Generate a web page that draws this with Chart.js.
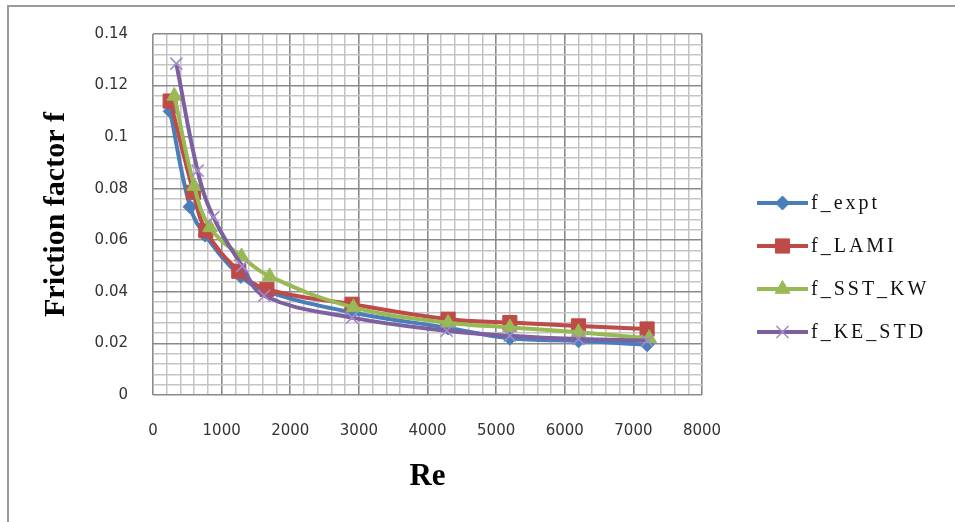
<!DOCTYPE html>
<html>
<head>
<meta charset="utf-8">
<script src="https://cdn.jsdelivr.net/npm/chart.js@4/dist/chart.umd.min.js"></script>
<style>
html,body{margin:0;padding:0;background:#fff;}
#wrap{position:relative;width:955px;height:522px;}
</style>
</head>
<body>
<div id="wrap"><canvas id="c" width="955" height="522"></canvas></div>
<script>
// ---- data ----
const seriesNames = ['f_expt', 'f_LAMI', 'f_SST_KW', 'f_KE_STD'];

const reExpt = [250, 540, 760, 1280, 1680, 2900, 4300, 5200, 6200, 7200];
const fExpt  = [0.110, 0.073, 0.062, 0.046, 0.040, 0.032, 0.026, 0.022, 0.021, 0.0195];

const reLami = [250, 590, 770, 1250, 1660, 2900, 4300, 5200, 6200, 7200];
const fLami  = [0.114, 0.0786, 0.0637, 0.048, 0.041, 0.0352, 0.0294, 0.0281, 0.0268, 0.0256];

const reSst  = [310, 600, 830, 1290, 1700, 2920, 4300, 5200, 6200, 7230];
const fSst   = [0.116, 0.081, 0.065, 0.0537, 0.046, 0.034, 0.028, 0.0262, 0.0243, 0.022];

const reKe   = [340, 650, 880, 1300, 1620, 2900, 4280, 5200, 6200, 7200];
const fKe    = [0.1285, 0.087, 0.069, 0.050, 0.0385, 0.030, 0.0249, 0.023, 0.0217, 0.0211];

const xTickLabels = ['0', '1000', '2000', '3000', '4000', '5000', '6000', '7000', '8000'];
const yTickLabels = ['0', '0.02', '0.04', '0.06', '0.08', '0.1', '0.12', '0.14'];
const xMinorStep = 200;
const yMinorStep = 0.004;

const xTitle = 'Re';
const yTitle = 'Friction factor f';

// ---- build ----
const colors = ['#4A7EBB', '#BE4B48', '#98B954', '#7D60A0'];
const markerColors = ['#4A7EBB', '#BE4B48', '#98B954', '#A48ACB'];
const styles = ['rectRot', 'rect', 'triangle', 'crossRot'];
const radii = [7, 10, 8.5, 8.5];
const pointBW = [1, 1, 1, 1.6];
const xs = [reExpt, reLami, reSst, reKe];
const ys = [fExpt, fLami, fSst, fKe];
const drawOrder = [3, 2, 1, 0];

const datasets = seriesNames.map((name, i) => ({
  label: name,
  data: xs[i].map((x, k) => ({x: x, y: ys[i][k]})),
  showLine: true,
  borderColor: colors[i],
  backgroundColor: colors[i],
  borderWidth: 4,
  tension: 0.4,
  pointStyle: styles[i],
  pointRadius: radii[i],
  pointHoverRadius: radii[i],
  pointBackgroundColor: markerColors[i],
  pointBorderColor: markerColors[i],
  pointBorderWidth: pointBW[i],
  order: drawOrder[i]
}));

const xMajor = xTickLabels.map(Number);
const yMajor = yTickLabels.map(Number);
const xMax = xMajor[xMajor.length - 1];
const yMax = yMajor[yMajor.length - 1];

const MAJOR = '#8a8a8a';
const MINOR = '#c4c4c4';

const bgPlugin = {
  id: 'bg',
  beforeDraw(chart) {
    const ctx = chart.ctx;
    ctx.save();
    ctx.fillStyle = '#fff';
    ctx.fillRect(0, 0, chart.width, chart.height);
    ctx.strokeStyle = '#9a9a9a';
    ctx.lineWidth = 2;
    ctx.beginPath();
    ctx.moveTo(8, chart.height);
    ctx.lineTo(8, 6);
    ctx.lineTo(chart.width, 6);
    ctx.stroke();
    ctx.restore();
  }
};

const legendPlugin = {
  id: 'sideLegend',
  afterDraw(chart) {
    const ctx = chart.ctx;
    const y0 = 203, gap = 43, x0 = 757, x1 = 808;
    chart.data.datasets.forEach((ds, i) => {
      const y = y0 + i * gap;
      ctx.save();
      ctx.strokeStyle = ds.borderColor;
      ctx.lineWidth = ds.borderWidth;
      ctx.beginPath();
      ctx.moveTo(x0, y);
      ctx.lineTo(x1, y);
      ctx.stroke();
      ctx.fillStyle = ds.pointBackgroundColor;
      ctx.strokeStyle = ds.pointBorderColor;
      ctx.lineWidth = ds.pointBorderWidth;
      Chart.helpers.drawPoint(ctx, {
        pointStyle: ds.pointStyle, radius: ds.pointRadius,
        borderWidth: ds.pointBorderWidth, rotation: 0
      }, (x0 + x1) / 2, y);
      ctx.fillStyle = '#111';
      ctx.font = '20px "Liberation Serif"';
      ctx.letterSpacing = '3px';
      ctx.textBaseline = 'middle';
      ctx.textAlign = 'left';
      ctx.fillText(ds.label, x1 + 3, y + 1);
      ctx.restore();
    });
  }
};

new Chart(document.getElementById('c'), {
  type: 'scatter',
  data: {datasets},
  plugins: [bgPlugin, legendPlugin],
  options: {
    responsive: false,
    animation: false,
    devicePixelRatio: 1,
    layout: {padding: {left: 0, right: 253, top: 31, bottom: 0}},
    plugins: {legend: {display: false}, tooltip: {enabled: false}},
    scales: {
      x: {
        type: 'linear',
        min: 0,
        max: xMax,
        afterBuildTicks(scale) {
          const t = [];
          for (let i = 0; i * xMinorStep <= xMax + 1e-9; i++) t.push({value: i * xMinorStep});
          scale.ticks = t;
        },
        afterFit(scale) { scale.height = 127; },
        ticks: {
          autoSkip: false,
          maxRotation: 0,
          padding: 27,
          color: '#333',
          font: {family: '"DejaVu Sans"', size: 15},
          callback(v) {
            const k = xMajor.findIndex(m => Math.abs(m - v) < 1e-6);
            return k >= 0 ? xTickLabels[k] : '';
          }
        },
        grid: {
          drawTicks: false,
          color(c) { return xMajor.some(m => Math.abs(m - c.tick.value) < 1e-6) ? MAJOR : MINOR; },
          lineWidth(c) { return xMajor.some(m => Math.abs(m - c.tick.value) < 1e-6) ? 1.6 : 1.5; }
        },
        border: {display: false},
        title: {
          display: true,
          text: xTitle,
          color: '#000',
          font: {family: '"Liberation Serif"', size: 31, weight: 'bold'},
          padding: {top: 0, bottom: 26}
        }
      },
      y: {
        type: 'linear',
        min: 0,
        max: yMax,
        afterBuildTicks(scale) {
          const t = [];
          const n = Math.round(yMax / yMinorStep);
          for (let i = 0; i <= n; i++) t.push({value: Math.round(i * yMinorStep * 1e6) / 1e6});
          scale.ticks = t;
        },
        afterFit(scale) { scale.width = 153; },
        ticks: {
          autoSkip: false,
          padding: 25,
          color: '#333',
          font: {family: '"DejaVu Sans"', size: 15},
          callback(v) {
            const k = yMajor.findIndex(m => Math.abs(m - v) < 1e-7);
            return k >= 0 ? yTickLabels[k] : '';
          }
        },
        grid: {
          drawTicks: false,
          color(c) { return yMajor.some(m => Math.abs(m - c.tick.value) < 1e-7) ? MAJOR : MINOR; },
          lineWidth(c) { return yMajor.some(m => Math.abs(m - c.tick.value) < 1e-7) ? 1.6 : 1.5; }
        },
        border: {display: false},
        title: {
          display: true,
          text: yTitle,
          color: '#000',
          font: {family: '"Liberation Serif"', size: 30, weight: 'bold'},
          padding: {top: 38, bottom: 0}
        }
      }
    }
  }
});
</script>
</body>
</html>
